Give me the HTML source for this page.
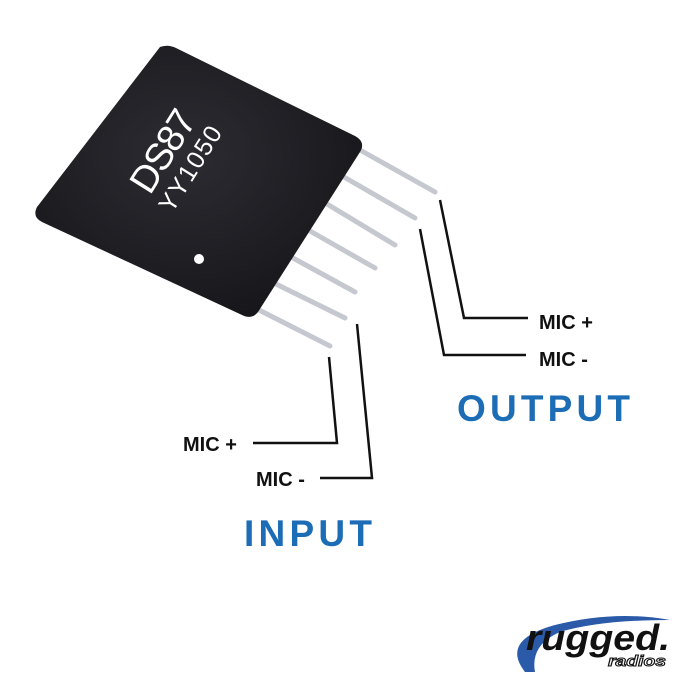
<!DOCTYPE html>
<html><head><style>
html,body{margin:0;padding:0;background:#fff;}
svg{display:block;}
</style></head><body>
<svg width="700" height="700" viewBox="0 0 700 700" xmlns="http://www.w3.org/2000/svg">
<defs>
<radialGradient id="body" cx="0.45" cy="0.4" r="0.7">
<stop offset="0" stop-color="#2c2c32"/><stop offset="1" stop-color="#141418"/>
</radialGradient>
</defs>
<g stroke="#c5c8cf" stroke-width="5" stroke-linecap="round">
<line x1="360" y1="150" x2="435" y2="192"/>
<line x1="344" y1="177" x2="415" y2="218"/>
<line x1="327" y1="204" x2="395" y2="245"/>
<line x1="310" y1="231" x2="375" y2="268"/>
<line x1="293" y1="258" x2="355" y2="292"/>
<line x1="276" y1="284" x2="345" y2="318"/>
<line x1="259" y1="310" x2="330" y2="346"/>
</g>
<path d="M160,47 Q168,44 176,48 L355,136 Q366,142 360,152 L258,312 Q252,320 242,315 L42,222 Q32,217 37,207 Z" fill="url(#body)"/>
<circle cx="199" cy="259" r="5" fill="#fff"/>
<g fill="#fff" font-family="Liberation Sans, sans-serif">
<text x="0" y="0" font-size="38" textLength="90" transform="translate(150,196) rotate(-58)">DS87</text>
<text x="0" y="0" font-size="25" textLength="96" transform="translate(172,214) rotate(-58)">YY1050</text>
</g>
<g stroke="#111" stroke-width="2.5" fill="none">
<polyline points="440,200 464,318 528,318"/>
<polyline points="420,229 444,355 526,355"/>
<polyline points="329,357 337,443 253,443"/>
<polyline points="357,324 372,478 320,478"/>
</g>
<g font-family="Liberation Sans, sans-serif" font-weight="bold" font-size="20" fill="#111">
<text x="539" y="329">MIC +</text>
<text x="539" y="366">MIC -</text>
<text x="183" y="451">MIC +</text>
<text x="256" y="486">MIC -</text>
</g>
<g font-family="Liberation Sans, sans-serif" font-weight="bold" font-size="37" fill="#1c6db5">
<text x="457" y="421" textLength="173" lengthAdjust="spacing">OUTPUT</text>
<text x="244" y="546" textLength="128" lengthAdjust="spacing">INPUT</text>
</g>
<path d="M525,672 Q500,640 555,625 Q615,610 670,620 Q600,620 560,632 Q530,645 535,672 Z" fill="#2a5aa8"/>
<text x="526" y="650" font-family="Liberation Sans, sans-serif" font-weight="bold" font-style="italic" font-size="36" fill="#111" textLength="144" lengthAdjust="spacingAndGlyphs">rugged.</text>
<text x="608" y="666" font-family="Liberation Sans, sans-serif" font-weight="bold" font-style="italic" font-size="15" fill="#fff" stroke="#111" stroke-width="1" textLength="58" lengthAdjust="spacingAndGlyphs">radios</text>
</svg>
</body></html>
